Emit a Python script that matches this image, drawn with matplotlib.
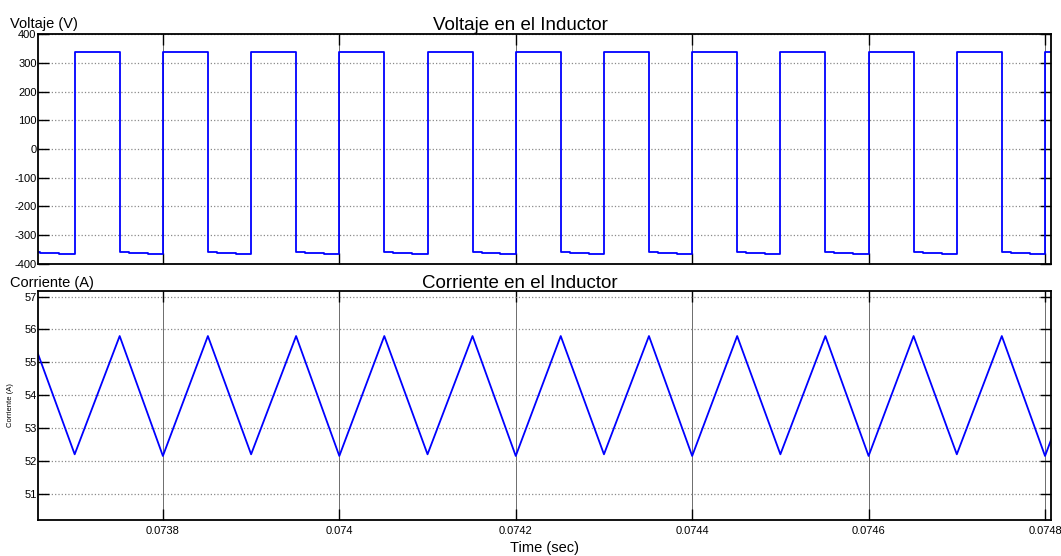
import matplotlib
matplotlib.use("Agg")
import matplotlib.pyplot as plt
import numpy as np

plt.rcParams['font.family'] = ['Liberation Sans', 'DejaVu Sans']
plt.rcParams['axes.unicode_minus'] = False

# switching instants of the inductor voltage (s)
rise_t = [0.0736, 0.0737, 0.0738, 0.0739, 0.0740, 0.0741, 0.0742,
          0.0743, 0.0744, 0.0745, 0.0746, 0.0747, 0.0748]
fall_t = [0.073651, 0.073751, 0.073851, 0.073951, 0.074051, 0.074151, 0.074251,
          0.074351, 0.074451, 0.074551, 0.074651, 0.074751, 0.074851]
v_high = 338
v_low = [-358, -361, -364]          # small sag during the off interval
low_step_dt = [0.0000102, 0.0000317]  # time after fall where the sag steps

# inductor current: valleys at rising edges, peaks at falling edges (A)
i_valley = [52.2, 52.2, 52.15, 52.2, 52.15, 52.2, 52.15, 52.2, 52.15, 52.2, 52.15, 52.2, 52.15]
i_peak = [55.8, 55.8, 55.8, 55.8, 55.8, 55.8, 55.8, 55.8, 55.8, 55.8, 55.8, 55.8, 55.8]

xticks = [0.0738, 0.0740, 0.0742, 0.0744, 0.0746, 0.0748]
xticklabels = ['0.0738', '0.074', '0.0742', '0.0744', '0.0746', '0.0748']
v_ticks = [-400, -300, -200, -100, 0, 100, 200, 300, 400]
i_ticks = [51, 52, 53, 54, 55, 56, 57]

# build the step waveform from the edges
vt, vv = [], []
for k in range(len(rise_t)):
    vt += [rise_t[k], rise_t[k], fall_t[k], fall_t[k],
           fall_t[k] + low_step_dt[0], fall_t[k] + low_step_dt[0],
           fall_t[k] + low_step_dt[1], fall_t[k] + low_step_dt[1]]
    vv += [v_low[-1], v_high, v_high, v_low[0],
           v_low[0], v_low[1], v_low[1], v_low[2]]
vt.append(rise_t[-1] + 0.0001)
vv.append(v_low[2])

it, iv = [], []
for k in range(len(rise_t)):
    it += [rise_t[k], fall_t[k]]
    iv += [i_valley[k], i_peak[k]]

xmin, xmax = 0.0736584, 0.0748068
blue = (0, 0, 1)

fig = plt.figure(figsize=(10.61, 5.56), dpi=100)
ax1 = fig.add_axes([0.0358, 0.5252, 0.9548, 0.4136])
ax2 = fig.add_axes([0.0358, 0.0647, 0.9548, 0.4119])


def scope_style(ax):
    for s in ax.spines.values():
        s.set_linewidth(1.3)
    ax.set_xlim(xmin, xmax)
    ax.set_xticks(xticks)
    ax.tick_params(axis='both', direction='in', length=8, width=1,
                   labelsize=8, top=True, right=True)
    ax.tick_params(axis='y', pad=1)
    ax.tick_params(axis='x', pad=4)
    ax.xaxis.grid(True, color='#555555', linewidth=0.6, linestyle='-')
    ax.yaxis.grid(True, color='#8a8a8a', linewidth=0.9, linestyle=':')
    ax.set_axisbelow(True)


ax1.plot(vt, vv, color=blue, linewidth=1.3)
scope_style(ax1)
ax1.set_ylim(-400, 400)
ax1.set_yticks(v_ticks)
ax1.set_xticklabels([])
ax1.set_title('Voltaje en el Inductor', fontsize=13.5, pad=1.5, x=0.476)

ax2.plot(it, iv, color=blue, linewidth=1.3)
scope_style(ax2)
ax2.set_ylim(50.2, 57.17)
ax2.set_yticks(i_ticks)
ax2.set_xticklabels(xticklabels)
ax2.set_title('Corriente en el Inductor', fontsize=13.5, pad=2, x=0.476)
ax2.set_xlabel('Time (sec)', fontsize=10.5, labelpad=4)
ax2.set_ylabel('Corriente (A)', fontsize=5.5, labelpad=7)

fig.text(0.009, 0.9496, 'Voltaje (V)', fontsize=10.5, va='baseline', ha='left')
fig.text(0.009, 0.4838, 'Corriente (A)', fontsize=10.5, va='baseline', ha='left')

fig.savefig('out.png', dpi=100)
